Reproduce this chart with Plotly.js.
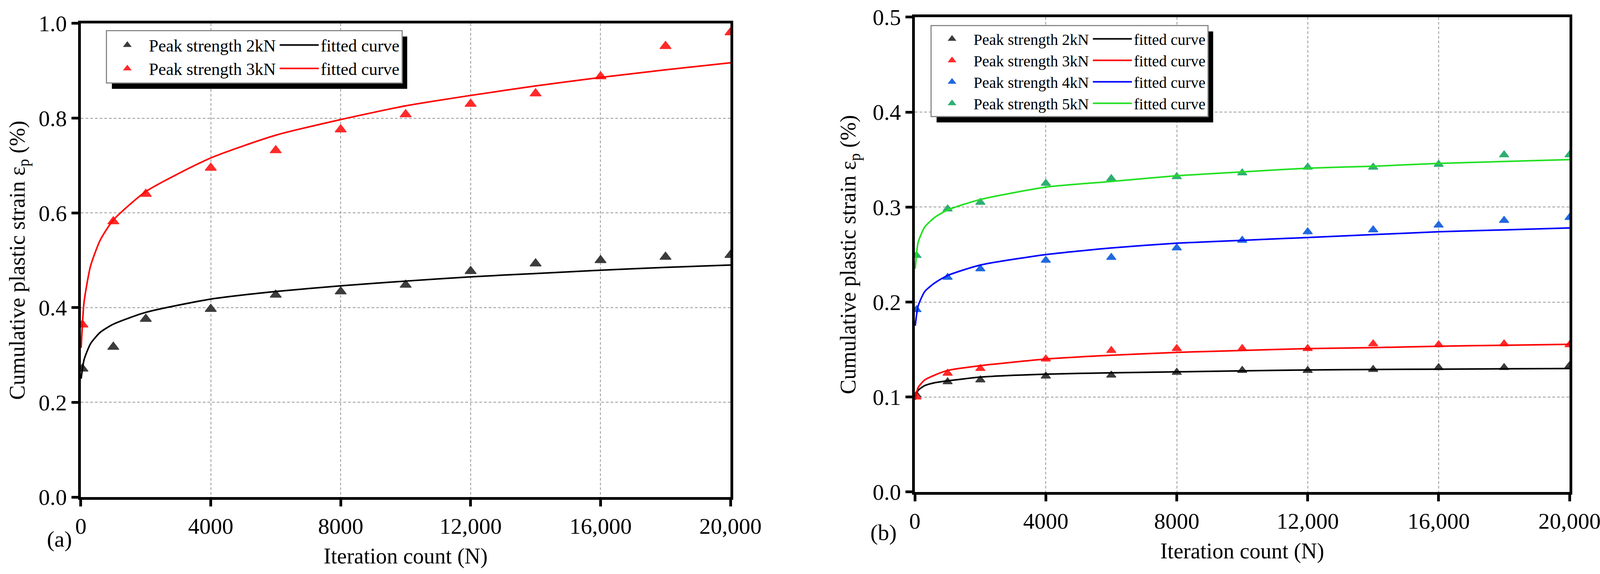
<!DOCTYPE html>
<html>
<head>
<meta charset="utf-8">
<script src="https://cdn.plot.ly/plotly-3.0.1.min.js"></script>
<style>
  html, body { margin: 0; padding: 0; background: #fff; }
  #chart { width: 4130px; height: 1470px; }
</style>
</head>
<body>
<div id="chart"></div>
<script>
// tick labels
const xTicks = [0, 4000, 8000, 12000, 16000, 20000];
const xTickText = ['0', '4000', '8000', '12,000', '16,000', '20,000'];

// (a) measured points
const cycleA = [50, 1000, 2000, 4000, 6000, 8000, 10000, 12000, 14000, 16000, 18000, 20000];
const strainA2 = [0.271, 0.317, 0.376, 0.397, 0.427, 0.434, 0.448, 0.477, 0.493, 0.500, 0.507, 0.511];
const strainA3 = [0.364, 0.582, 0.640, 0.695, 0.732, 0.776, 0.808, 0.830, 0.852, 0.888, 0.952, 0.981];
// (a) fitted curves
const fitXA = [10, 100, 300, 600, 1000, 2000, 4000, 6000, 8000, 10000, 12000, 14000, 16000, 18000, 20000];
const fitA2 = [0.250, 0.290, 0.324, 0.348, 0.365, 0.390, 0.418, 0.434, 0.446, 0.456, 0.465, 0.472, 0.479, 0.485, 0.490];
const fitA3 = [0.315, 0.412, 0.488, 0.543, 0.585, 0.645, 0.716, 0.764, 0.797, 0.826, 0.848, 0.868, 0.886, 0.902, 0.917];

// (b) measured points
const cycleB = [50, 1000, 2000, 4000, 6000, 8000, 10000, 12000, 14000, 16000, 18000, 20000];
const strainB2 = [0.102, 0.116, 0.118, 0.122, 0.123, 0.126, 0.128, 0.128, 0.129, 0.131, 0.131, 0.133];
const strainB3 = [0.100, 0.125, 0.130, 0.140, 0.149, 0.151, 0.151, 0.151, 0.156, 0.155, 0.156, 0.155];
const strainB4 = [0.192, 0.226, 0.235, 0.244, 0.247, 0.257, 0.265, 0.274, 0.276, 0.281, 0.286, 0.289];
const strainB5 = [0.249, 0.298, 0.305, 0.325, 0.330, 0.332, 0.336, 0.342, 0.342, 0.345, 0.355, 0.355];
// (b) fitted curves
const fitXB = [10, 100, 300, 600, 1000, 2000, 4000, 6000, 8000, 10000, 12000, 14000, 16000, 18000, 20000];
const fitB2 = [0.100, 0.107, 0.112, 0.115, 0.117, 0.121, 0.124, 0.1255, 0.1265, 0.1275, 0.1285, 0.129, 0.1293, 0.1297, 0.130];
const fitB3 = [0.097, 0.110, 0.118, 0.123, 0.128, 0.133, 0.140, 0.144, 0.147, 0.149, 0.151, 0.152, 0.1535, 0.1545, 0.1555];
const fitB4 = [0.175, 0.196, 0.211, 0.220, 0.228, 0.239, 0.250, 0.257, 0.262, 0.265, 0.268, 0.271, 0.274, 0.276, 0.278];
const fitB5 = [0.235, 0.263, 0.279, 0.289, 0.297, 0.308, 0.321, 0.327, 0.333, 0.337, 0.341, 0.343, 0.346, 0.348, 0.350];

const seriesNames = ['Peak strength 2kN', 'Peak strength 3kN', 'Peak strength 4kN', 'Peak strength 5kN'];
const markerColors = ['#3c3c3c', '#ff2a2a', '#2068e0', '#2fae72'];
const lineColors = ['#000000', '#ff0000', '#0000ff', '#22e022'];

const FONT = 'Liberation Serif, Times New Roman, serif';
const W = 4130, H = 1470;

function pts(x, y, i, ax, leg, size) {
  return {
    x: x, y: y, type: 'scatter', mode: 'markers', name: seriesNames[i],
    xaxis: ax[0], yaxis: ax[1], legend: leg, legendgroup: leg + 'pts',
    marker: { symbol: 'triangle-up', size: size, color: markerColors[i],
      line: { color: markerColors[i], width: 2 } }
  };
}
function fit(x, y, i, ax, leg) {
  return {
    x: x, y: y, type: 'scatter', mode: 'lines', name: 'fitted curve',
    xaxis: ax[0], yaxis: ax[1], legend: leg, legendgroup: leg + 'fit',
    line: { color: lineColors[i], width: 4, shape: 'spline', smoothing: 0.6 }
  };
}

const A = ['x', 'y'], B = ['x2', 'y2'];
const traces = [
  pts(cycleA, strainA2, 0, A, 'legend', 25),
  pts(cycleA, strainA3, 1, A, 'legend', 25),
  fit(fitXA, fitA2, 0, A, 'legend'),
  fit(fitXA, fitA3, 1, A, 'legend'),
  pts(cycleB, strainB2, 0, B, 'legend2', 21),
  pts(cycleB, strainB3, 1, B, 'legend2', 21),
  pts(cycleB, strainB4, 2, B, 'legend2', 21),
  pts(cycleB, strainB5, 3, B, 'legend2', 21),
  fit(fitXB, fitB2, 0, B, 'legend2'),
  fit(fitXB, fitB3, 1, B, 'legend2'),
  fit(fitXB, fitB4, 2, B, 'legend2'),
  fit(fitXB, fitB5, 3, B, 'legend2')
];

function xAxis(domain, anchor) {
  return {
    domain: domain, anchor: anchor, range: [0, 20000],
    tickvals: xTicks, ticktext: xTickText,
    showline: true, linewidth: 7, linecolor: '#000', mirror: true,
    ticks: 'outside', ticklen: 17, tickwidth: 7, tickcolor: '#000',
    showgrid: true, gridcolor: '#9a9a9a', gridwidth: 2, griddash: '7px,5px',
    zeroline: false,
    tickfont: { family: FONT, size: 58, color: '#000' },
    title: { text: 'Iteration count (N)', font: { family: FONT, size: 56, color: '#000' }, standoff: 28 }
  };
}
function yAxis(domain, anchor, max, dtick, standoff) {
  return {
    domain: domain, anchor: anchor, range: [0, max], dtick: dtick, tick0: 0, tickformat: '.1f',
    showline: true, linewidth: 7, linecolor: '#000', mirror: true,
    ticks: 'outside', ticklen: 17, tickwidth: 7, tickcolor: '#000',
    showgrid: true, gridcolor: '#9a9a9a', gridwidth: 2, griddash: '7px,5px',
    zeroline: false,
    tickfont: { family: FONT, size: 58, color: '#000' },
    title: { text: 'Cumulative plastic strain ε<sub>p</sub> (%)', font: { family: FONT, size: 56, color: '#000' }, standoff: standoff }
  };
}
function legendBox(x, y, size) {
  return {
    x: x, y: y, xanchor: 'left', yanchor: 'top',
    orientation: 'h', traceorder: 'grouped', itemwidth: 100, tracegroupgap: 0,
    bgcolor: '#fff', bordercolor: '#8a8a8a', borderwidth: 3,
    font: { family: FONT, size: size, color: '#000' }
  };
}

const layout = {
  width: W, height: H,
  margin: { l: 0, r: 0, t: 0, b: 0 },
  paper_bgcolor: '#fff', plot_bgcolor: '#fff',
  showlegend: true,
  xaxis: xAxis([0.0501, 0.4528], 'y'),
  yaxis: yAxis([0.134, 0.9592], 'x', 1.0, 0.2, 20),
  xaxis2: xAxis([0.5671, 0.9729], 'y2'),
  yaxis2: yAxis([0.1429, 0.9701], 'x2', 0.5, 0.1, 28),
  legend: legendBox(0.0656, 0.9476, 44),
  legend2: legendBox(0.5768, 0.9565, 40),
  annotations: [
    { text: '(a)', xref: 'paper', yref: 'paper', x: 118 / W, y: 1 - 1415 / H,
      showarrow: false, font: { family: FONT, size: 58, color: '#000' } },
    { text: '(b)', xref: 'paper', yref: 'paper', x: 2262 / W, y: 1 - 1398 / H,
      showarrow: false, font: { family: FONT, size: 58, color: '#000' } }
  ]
};

Plotly.newPlot('chart', traces, layout, { staticPlot: true }).then(gd => {
  // drop shadow behind each legend box, placed from the drawn box
  const shadows = [];
  ['legend', 'legend2'].forEach(id => {
    const bg = gd.querySelector('g.' + id + ' rect.bg');
    if (!bg) return;
    const r = bg.getBoundingClientRect();
    shadows.push({
      type: 'rect', xref: 'paper', yref: 'paper', layer: 'above',
      x0: (r.left + 14) / W, x1: (r.right + 13) / W,
      y0: 1 - (r.bottom + 15) / H, y1: 1 - (r.top + 15) / H,
      fillcolor: '#000', line: { width: 0 }
    });
  });
  return Plotly.relayout(gd, { shapes: shadows });
});
</script>
</body>
</html>
